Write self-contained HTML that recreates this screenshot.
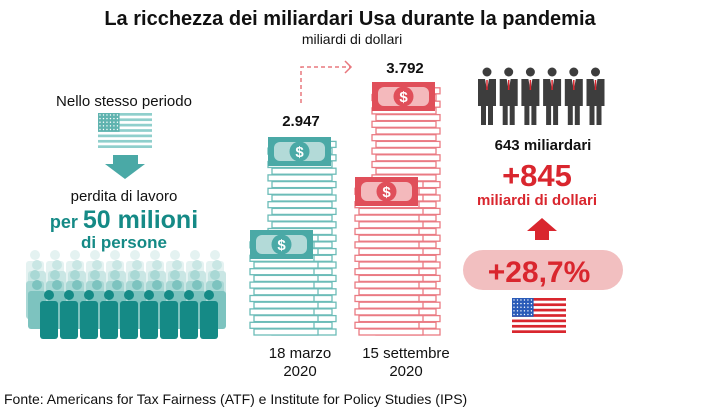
<!DOCTYPE html>
<html><head><meta charset="utf-8"><style>
html,body{margin:0;padding:0;background:#fff;width:701px;height:412px;overflow:hidden}
svg{display:block;font-family:"Liberation Sans",sans-serif}
</style></head><body>
<svg id="s" width="701" height="412" viewBox="0 0 701 412" xmlns="http://www.w3.org/2000/svg">
<text x="350" y="25" text-anchor="middle" font-size="20" font-weight="bold" fill="#111">La ricchezza dei miliardari Usa durante la pandemia</text>
<text x="352" y="44" text-anchor="middle" font-size="14" fill="#111">miliardi di dollari</text>
<text x="124" y="106" text-anchor="middle" font-size="15" fill="#111">Nello stesso periodo</text>
<g id="tflag"></g>
<polygon points="113,155 138,155 138,164 145,164 125,179 105,164 113,164" fill="#4aa9a6"/>
<text x="124" y="201" text-anchor="middle" font-size="15" fill="#111">perdita di lavoro</text>
<text x="124" y="228" text-anchor="middle" font-weight="bold" fill="#158a86"><tspan font-size="18">per </tspan><tspan font-size="25">50 milioni</tspan></text>
<text x="124" y="248" text-anchor="middle" font-size="17" font-weight="bold" fill="#158a86">di persone</text>
<g id="people"></g>
<g id="stacks"></g>
<text x="301" y="126" text-anchor="middle" font-size="15" font-weight="bold" fill="#111">2.947</text>
<text x="405" y="73" text-anchor="middle" font-size="15" font-weight="bold" fill="#111">3.792</text>
<path d="M301,103 V67 H350" fill="none" stroke="#e8787e" stroke-width="1.5" stroke-dasharray="4,3"/>
<path d="M345,61 L351,67 L345,73" fill="none" stroke="#e8787e" stroke-width="1.5"/>
<text x="300" y="358" text-anchor="middle" font-size="15" fill="#111">18 marzo</text>
<text x="300" y="376" text-anchor="middle" font-size="15" fill="#111">2020</text>
<text x="406" y="358" text-anchor="middle" font-size="15" fill="#111">15 settembre</text>
<text x="406" y="376" text-anchor="middle" font-size="15" fill="#111">2020</text>
<g id="biz"></g>
<text x="543" y="150" text-anchor="middle" font-size="15" font-weight="bold" fill="#111">643 miliardari</text>
<text x="537" y="186" text-anchor="middle" font-size="31" font-weight="bold" fill="#d9262e">+845</text>
<text x="537" y="205" text-anchor="middle" font-size="15" font-weight="bold" fill="#d9262e">miliardi di dollari</text>
<polygon points="542,218 557,231 549,231 549,240 535,240 535,231 527,231" fill="#d9262e"/>
<rect x="463" y="250" width="160" height="40" rx="20" fill="#f2bfc0"/>
<text x="539" y="282" text-anchor="middle" font-size="30" font-weight="bold" fill="#d9262e">+28,7%</text>
<g id="rflag"></g>
<text x="4" y="404" font-size="14" fill="#111">Fonte: Americans for Tax Fairness (ATF) e Institute for Policy Studies (IPS)</text>
</svg>
<script>
var NS="http://www.w3.org/2000/svg";
function el(p,t,a){var e=document.createElementNS(NS,t);for(var k in a)e.setAttribute(k,a[k]);p.appendChild(e);return e;}
function flag(g,x,y,w,h,stripe,canton,bg){
 g=document.getElementById(g);
 el(g,'rect',{x:x,y:y,width:w,height:h,fill:bg});
 for(var i=0;i<13;i+=2)el(g,'rect',{x:x,y:y+i*h/13,width:w,height:h/13,fill:stripe});
 el(g,'rect',{x:x,y:y,width:w*0.4,height:h*7/13,fill:canton});
 for(var r=0;r<5;r++)for(var c=0;c<6;c++)el(g,'circle',{cx:x+2+c*w*0.4/6.2,cy:y+2+r*h*7/13/5.2,r:0.7,fill:'#fff'});
}
flag('tflag',98,113,54,35,'#8fcfcc','#5fb3af','#fff');
flag('rflag',512,298,54,35,'#d9262e','#2a5bb8','#fff');
// people
var pg=document.getElementById('people');
var rows=[[260,'#e4f2f1',23],[270,'#c9e6e4',25],[280,'#a9d8d5',23],[290,'#7dc3bf',25],[300,'#158a86',37]];
rows.forEach(function(r,ri){
 var n=ri==4?9:10, sp=ri==4?20:20;
 for(var i=0;i<n;i++){var cx=r[2]+12+i*sp+(ri==4?0:0);
  el(pg,'circle',{cx:cx,cy:r[0]-5,r:5,fill:r[1]});
  el(pg,'rect',{x:cx-9,y:r[0]+1,width:18,height:38-ri*0,rx:3,fill:r[1]});
 }
});
// stacks
var sg=document.getElementById('stacks');
function stack(x,y0,y1,w,col){
 for(var y=y1-7;y>=y0;y-=6.7){
  var off=(Math.round((y1-y)/6.7)%2)?4:0;
  el(sg,'rect',{x:x+off,y:y,width:w,height:6,fill:'#fff',stroke:col,'stroke-width':1.3});
 }
}
function bill(x,y,dark,light){
 el(sg,'rect',{x:x,y:y,width:63,height:29,fill:dark});
 el(sg,'rect',{x:x+6,y:y+5,width:51,height:19,rx:6,fill:light});
 el(sg,'circle',{cx:x+31.5,cy:y+14.5,r:10,fill:dark});
 var t=el(sg,'text',{x:x+31.5,y:y+20,'text-anchor':'middle','font-size':15,'font-weight':'bold',fill:'#fff'});t.textContent='$';
}
var T='#4aa9a6',R='#e04f5a';
stack(268,137,336,64,'#6cbcb8');bill(268,137,T,'#b3dad8');
stack(250,230,336,64,'#6cbcb8');bill(250,230,T,'#b3dad8');
stack(372,82,336,64,'#ea7b83');bill(372,82,R,'#f4b9bc');
stack(355,177,336,64,'#ea7b83');bill(355,177,R,'#f4b9bc');
// businessmen
var bg=document.getElementById('biz');
for(var i=0;i<6;i++){var cx=487+i*21.7;
 el(bg,'circle',{cx:cx,cy:72,r:4.5,fill:'#3d3d3d'});
 el(bg,'path',{d:'M'+(cx-9)+',79 h18 v27 h-3 v19 h-5 v-19 h-2 v19 h-5 v-19 h-3z',fill:'#3d3d3d'});
 el(bg,'polygon',{points:(cx-2)+',79 '+(cx+2)+',79 '+cx+',90',fill:'#fff'});
 el(bg,'line',{x1:cx,y1:80,x2:cx,y2:90,stroke:'#d9262e','stroke-width':1.5});
}
</script>
</body></html>
